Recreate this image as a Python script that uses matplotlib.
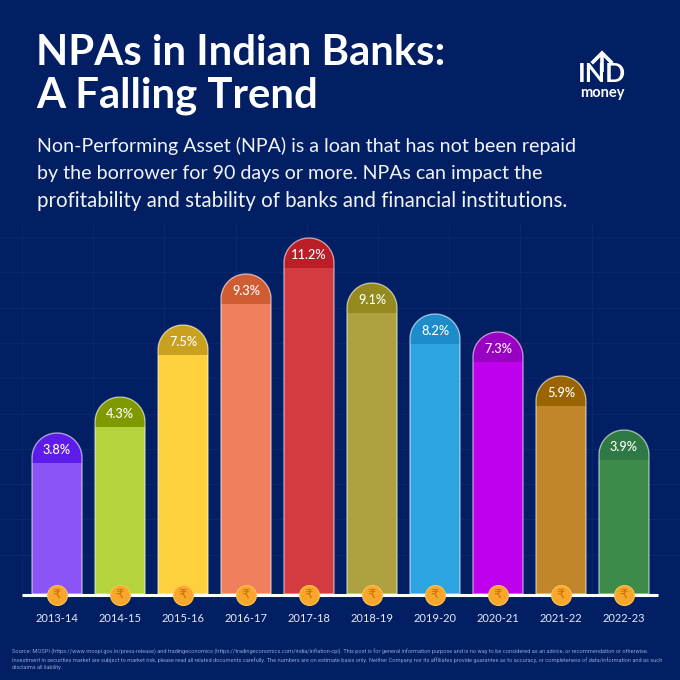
import numpy as np
import matplotlib
matplotlib.use("Agg")
import matplotlib.pyplot as plt
from matplotlib.patches import PathPatch
from matplotlib.path import Path

years = ["2013-14", "2014-15", "2015-16", "2016-17", "2017-18",
         "2018-19", "2019-20", "2020-21", "2021-22", "2022-23"]
npa_labels = ["3.8%", "4.3%", "7.5%", "9.3%", "11.2%",
              "9.1%", "8.2%", "7.3%", "5.9%", "3.9%"]
# the infographic bars are not to scale, so heights are read as drawn (px above baseline)
drawn_heights = [161, 197, 269, 320, 356, 311, 280, 262, 218, 164]
bar_colors = ["#8B55F5", "#B5D33D", "#FFD03E", "#F07F5E", "#D23B40",
              "#ADA23F", "#2EA3E2", "#BE00EE", "#C1862A", "#3D8B4B"]
cap_colors = ["#5E1CEB", "#7F9A00", "#C9A11F", "#D05C34", "#BB1E26",
              "#948A20", "#1C8CCB", "#9A00C3", "#9A6400", "#2F7A44"]

title_lines = ["NPAs in Indian Banks:", "A Falling Trend"]
body_lines = ["Non-Performing Asset (NPA) is a loan that has not been repaid",
              "by the borrower for 90 days or more. NPAs can impact the",
              "profitability and stability of banks and financial institutions."]
body_sizes = [14.15, 14.1, 14.8]
footer_lines = [
    "Source: MOSPI (https://www.mospi.gov.in/press-release) and tradingeconomics (https://tradingeconomics.com/india/inflation-cpi). This post is for general information purpose and is no way to be considered as an advice, or recommendation or otherwise.",
    "Investment in securities market are subject to market risk, please read all related documents carefully. The numbers are on estimate basis only. Neither Company nor its affiliates provide guarantee as to accuracy, or completeness of data/information and as such",
    "disclaims all liability.",
]

BG = "#021F63"
GRID = "#0A2A6C"
plt.rcParams["font.family"] = ["Lato", "DejaVu Sans"]

fig = plt.figure(figsize=(6.8, 6.8), dpi=100, facecolor=BG)

# pixel-space layer for the text and background grid
page = fig.add_axes([0, 0, 1, 1])
page.set_xlim(0, 680)
page.set_ylim(680, 0)
page.axis("off")

for gx in np.arange(22, 660, 71.2):
    page.plot([gx, gx], [222, 600], color=GRID, lw=0.6, zorder=0)
for gy in np.arange(237, 560, 35.3):
    page.plot([0, 680], [gy, gy], color=GRID, lw=0.6, zorder=0)

for y, line in zip([53, 96], title_lines):
    page.text(36, y, line, color="white", fontsize=30.2, fontweight="bold", va="center", ha="left")
for y, line, size in zip([146, 174, 201], body_lines, body_sizes):
    page.text(37, y, line, color="#F2F4F8", fontsize=size, va="center", ha="left")
for y, line in zip([652, 660, 667], footer_lines):
    page.text(12, y, line, color="#8EA2CC", fontsize=4.05, va="center", ha="left",
              family=["Roboto", "DejaVu Sans"])

# logo
page.text(601.5, 74, "IND", color="white", fontsize=19, fontweight="bold", ha="center", va="center")
page.text(602, 93, "money", color="white", fontsize=10.5, fontweight="bold", ha="center", va="center")
page.plot([593, 602, 611], [62, 53, 62], color="white", lw=2.6, zorder=4, solid_joinstyle="miter")
page.plot([602, 602], [54, 72], color="white", lw=2.6, zorder=4, solid_capstyle="butt")

# chart axes: baseline at y=594, from x=22 to x=658
ax = fig.add_axes([22 / 680, (680 - 594) / 680, 636 / 680, 380 / 680])
ax.patch.set_alpha(0)
ax.set_xlim(-0.556, 9.54)
ax.set_ylim(0, 380)
ax.axis("off")

x = np.arange(len(years))
bar_w = 50 / 63
cap_band = 30
radius_y = 25  # px, y unit is already px


def capped_path(xc, h):
    # bar outline with a semicircular top
    t = np.linspace(np.pi, 0, 50)
    xs = xc + bar_w / 2 * np.cos(t)
    ys = h - radius_y + radius_y * np.sin(t)
    verts = [(xc - bar_w / 2, 0)] + list(zip(xs, ys)) + [(xc + bar_w / 2, 0)]
    return Path(verts + [(xc - bar_w / 2, 0)], closed=True)


bars = ax.bar(x, drawn_heights, width=bar_w, color=bar_colors, zorder=2)
caps = ax.bar(x, [cap_band] * len(x), bottom=np.array(drawn_heights) - cap_band,
              width=bar_w, color=cap_colors, zorder=3)
for xc, h, b, c in zip(x, drawn_heights, bars, caps):
    outline = PathPatch(capped_path(xc, h), transform=ax.transData)
    b.set_clip_path(outline)
    c.set_clip_path(outline)
    ax.add_patch(PathPatch(capped_path(xc, h), fc="none", ec="white", alpha=0.55, lw=1.0, zorder=4))

for xc, h, lab in zip(x, drawn_heights, npa_labels):
    ax.text(xc, h - 17, lab, color="white", fontsize=9.2, fontweight="medium",
            ha="center", va="center", zorder=5)

# baseline sits on top of the bars, coins on top of it
ax.plot([-0.556, 9.54], [-1, -1], color="white", lw=2.2, zorder=6, clip_on=False, solid_capstyle="butt")
ax.scatter(x, [-1] * len(x), s=205, color="#F9A72B", edgecolors="#FBC253", linewidths=0.8,
           zorder=7, clip_on=False)
for xc in x:
    ax.text(xc, -1, "\u20b9", color="#C9710F", fontsize=9.5, ha="center", va="center", zorder=8,
            family="DejaVu Sans", clip_on=False)
    ax.text(xc, -25, years[xc], color="#E6EAF3", fontsize=8, ha="center", va="center",
            zorder=8, clip_on=False)

fig.savefig("out.png", dpi=100, facecolor=BG)
